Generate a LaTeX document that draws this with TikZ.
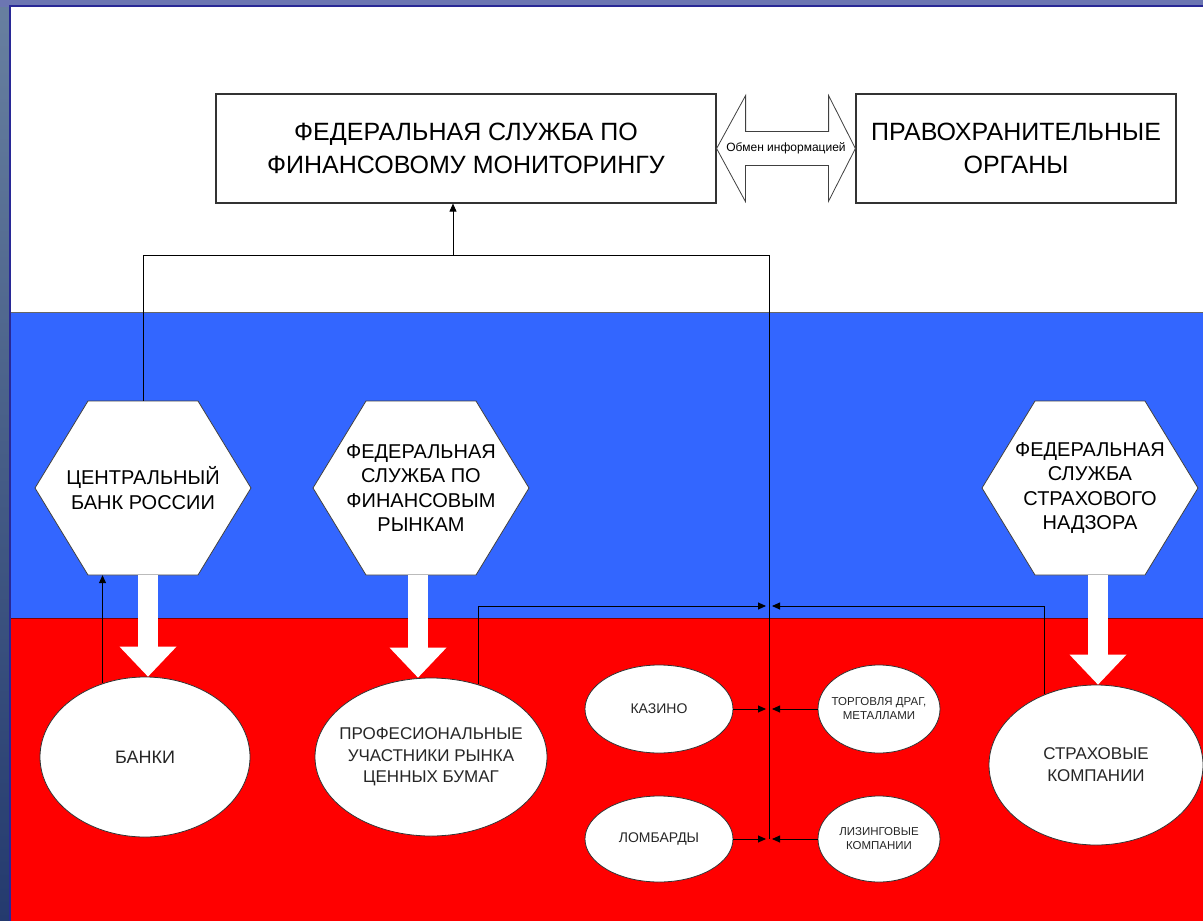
\documentclass[tikz,border=0pt]{standalone}
\usepackage{fontspec}
\setmainfont{Liberation Sans}
\usetikzlibrary{arrows.meta,calc,shapes.geometric}
\definecolor{slideblue}{RGB}{51,102,255}
\definecolor{slidered}{RGB}{255,0,0}
\definecolor{frametop}{RGB}{104,128,160}
\definecolor{framebottom}{RGB}{36,58,110}
\definecolor{framepurple}{RGB}{108,118,178}
\definecolor{edgenavy}{RGB}{40,40,150}
\tikzset{
  bigbox/.style={draw=black!80, line width=1.2pt, fill=white, align=center, font=\fontsize{25}{33}\selectfont},
  hexbox/.style={draw=black!75, line width=0.8pt, fill=white},
  hextext/.style={align=center, inner sep=0pt, minimum height=174pt, minimum width=110pt, font=\fontsize{20}{24.5}\selectfont},
  oval/.style={ellipse, draw=black!80, line width=0.8pt, fill=white, align=center, inner xsep=-20pt, inner ysep=0pt, text=black!85},
  wire/.style={draw=black, line width=0.9pt},
  link/.style={wire, -{Triangle[length=8pt,width=7pt]}},
  fat/.style={draw=white, line width=20pt, -{Triangle[length=30pt,width=57pt,line width=0pt]}}
}
\begin{document}
\begin{tikzpicture}[x=1pt,y=-1pt]
\useasboundingbox (0,0) rectangle (1203,921);
% slide background
\shade[top color=frametop, bottom color=framebottom] (0,0) rectangle (1203,921);
\fill[framepurple] (0,0) rectangle (1203,7);
\fill[white] (10,7) rectangle (1203,312);
\fill[slideblue] (10,312) rectangle (1203,618);
\fill[slidered] (10,618) rectangle (1203,921);
\draw[black!60, line width=0.8pt] (10,312) -- (1203,312);
\draw[red!50!black, line width=0.8pt] (10,618) -- (1203,618);
\draw[edgenavy, line width=1.5pt] (10,921) -- (10,6) -- (1203,6);

% top row
\node[bigbox, minimum width=500pt, minimum height=109pt] (fsfm) at (466,148.5) {ФЕДЕРАЛЬНАЯ СЛУЖБА ПО\\ФИНАНСОВОМУ МОНИТОРИНГУ};
\node[bigbox, minimum width=320pt, minimum height=109pt] (law) at (1016,148.5) {ПРАВОХРАНИТЕЛЬНЫЕ\\ОРГАНЫ};
\draw[hexbox] (fsfm.east) -- ++(29,-53) -- ++(0,36) -- ++(83,0) -- ++(0,-36) -- (law.west)
  -- ++(-27,53) -- ++(0,-36) -- ++(-83,0) -- ++(0,36) -- cycle;
\node[font=\fontsize{12}{14}\selectfont] (swap) at ($(fsfm.east)!0.5!(law.west)$) {Обмен информацией};

% supervisors
\foreach \nm/\cx/\txt in {cb/143/{ЦЕНТРАЛЬНЫЙ\\БАНК РОССИИ},
    fsfr/421/{ФЕДЕРАЛЬНАЯ\\СЛУЖБА ПО\\ФИНАНСОВЫМ\\РЫНКАМ},
    fssn/1090/{ФЕДЕРАЛЬНАЯ\\СЛУЖБА\\СТРАХОВОГО\\НАДЗОРА}} {
  \draw[hexbox] (\cx-108,488) -- (\cx-55,401) -- (\cx+55,401) -- (\cx+108,488) -- (\cx+55,575) -- (\cx-55,575) -- cycle;
  \node[hextext] (\nm) at (\cx,488) {\txt};
}

% reporting organisations
\node[oval, minimum width=210pt, minimum height=160pt, font=\fontsize{18}{22}\selectfont] (banks) at (145,757) {БАНКИ};
\node[oval, minimum width=232pt, minimum height=158pt, font=\fontsize{17}{21.5}\selectfont] (prof) at (431,757) {ПРОФЕСИОНАЛЬНЫЕ\\УЧАСТНИКИ РЫНКА\\ЦЕННЫХ БУМАГ};
\node[oval, minimum width=148pt, minimum height=88pt, font=\fontsize{14}{17}\selectfont] (casino) at (659,709) {КАЗИНО};
\node[oval, minimum width=122pt, minimum height=88pt, font=\fontsize{11.5}{14}\selectfont] (metals) at (879,709) {ТОРГОВЛЯ ДРАГ,\\МЕТАЛЛАМИ};
\node[oval, minimum width=148pt, minimum height=86pt, font=\fontsize{14}{17}\selectfont] (pawn) at (659,839) {ЛОМБАРДЫ};
\node[oval, minimum width=122pt, minimum height=86pt, font=\fontsize{11.5}{14}\selectfont] (leasing) at (879,839) {ЛИЗИНГОВЫЕ\\КОМПАНИИ};
\node[oval, minimum width=214pt, minimum height=160pt, font=\fontsize{17}{22}\selectfont] (ins) at (1096,765) {СТРАХОВЫЕ\\КОМПАНИИ};

% supervision arrows
\coordinate (cbfoot) at ([xshift=5pt]cb.south);
\coordinate (fsfrfoot) at ([xshift=-3pt]fsfr.south);
\coordinate (fssnfoot) at ([xshift=8pt]fssn.south);
\draw[fat] (cbfoot) -- (cbfoot |- banks.north);
\draw[fat] (fsfrfoot) -- (fsfrfoot |- prof.north);
\draw[fat] (fssnfoot) -- (fssnfoot |- ins.north);

% reporting lines
\coordinate (feed) at (453,255);
\coordinate (spinetop) at (769,255);
\coordinate (spinebot) at (769,839);
\coordinate (join) at (769,606);
\draw[wire] (cb.north) |- (spinetop) -- (spinebot);
\draw[link] (feed) -- (feed |- fsfm.south);
\draw[link] (banks.120) -- (banks.120 |- cb.south);
\draw[link, shorten >=3pt] (prof.57) |- (join);
\draw[link, shorten >=3pt] (ins.126) |- (join);
\foreach \src in {casino,pawn}
  \draw[link, shorten >=3pt] (\src.east) -- (\src.east -| spinebot);
\foreach \src in {metals,leasing}
  \draw[link, shorten >=3pt] (\src.west) -- (\src.west -| spinebot);
\end{tikzpicture}
\end{document}
